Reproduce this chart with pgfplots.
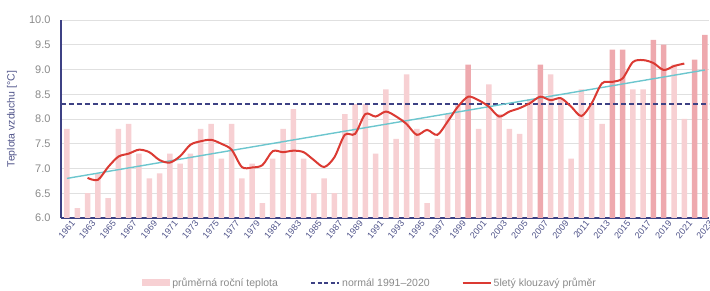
\documentclass[border=0pt]{standalone}
\usepackage{fontspec}
\setmainfont{Liberation Sans}
\usepackage{pgfplots}
\pgfplotsset{compat=1.18}
\definecolor{navy}{HTML}{3D4184}
\definecolor{barlight}{HTML}{F7D0D3}
\definecolor{bardark}{HTML}{EEA9AE}
\definecolor{trend}{HTML}{6CC6CE}
\definecolor{mared}{HTML}{DB3A33}
\definecolor{ticknavy}{HTML}{50548A}
\definecolor{labgray}{HTML}{8A8A8A}

\pgfplotstableread{
year t
1961 7.8
1962 6.2
1963 6.5
1964 6.9
1965 6.4
1966 7.8
1967 7.9
1968 7.3
1969 6.8
1970 6.9
1971 7.3
1972 7.1
1973 7.3
1974 7.8
1975 7.9
1976 7.2
1977 7.9
1978 6.8
1979 7.1
1980 6.3
1981 7.2
1982 7.8
1983 8.2
1984 7.2
1985 6.5
1986 6.8
1987 6.5
1988 8.1
1989 8.3
1990 8.3
1991 7.3
1992 8.6
1993 7.6
1994 8.9
1995 7.8
1996 6.3
1997 7.6
1998 8.1
1999 8.3
2001 7.8
2002 8.7
2003 8.1
2004 7.8
2005 7.7
2006 8.4
2008 8.9
2009 8.4
2010 7.2
2011 8.6
2012 8.3
2013 7.9
2016 8.6
2017 8.6
2020 9.1
2021 8.0
}\barslight

\pgfplotstableread{
year t
2000 9.1
2007 9.1
2014 9.4
2015 9.4
2018 9.6
2019 9.5
2022 9.2
2023 9.7
}\barsdark

\pgfplotstableread{
year m
1963 6.81
1964 6.77
1965 7.03
1966 7.24
1967 7.30
1968 7.38
1969 7.33
1970 7.17
1971 7.12
1972 7.25
1973 7.48
1974 7.55
1975 7.58
1976 7.50
1977 7.38
1978 7.03
1979 7.02
1980 7.07
1981 7.35
1982 7.33
1983 7.36
1984 7.33
1985 7.17
1986 7.03
1987 7.23
1988 7.68
1989 7.70
1990 8.10
1991 8.05
1992 8.15
1993 8.05
1994 7.90
1995 7.68
1996 7.78
1997 7.68
1998 7.95
1999 8.25
2000 8.45
2001 8.38
2002 8.25
2003 8.05
2004 8.15
2005 8.22
2006 8.32
2007 8.45
2008 8.38
2009 8.42
2010 8.25
2011 8.06
2012 8.32
2013 8.72
2014 8.75
2015 8.82
2016 9.15
2017 9.19
2018 9.13
2019 8.99
2020 9.07
2021 9.12
}\mavg

\begin{document}
\begin{tikzpicture}
\useasboundingbox (-61pt,-73pt) rectangle (649pt,218pt);
\begin{axis}[
  scale only axis,
  width=648pt, height=198pt,
  xmin=1960.42, xmax=2023.4,
  ymin=6, ymax=10,
  ytick={6,6.5,...,10},
  yticklabel style={/pgf/number format/fixed,/pgf/number format/fixed zerofill,/pgf/number format/precision=1, font=\fontsize{11}{13}\selectfont, text=labgray, xshift=-7pt},
  /pgf/number format/assume math mode=true,
  xtick={1961,1963,...,2023},
  xticklabel style={rotate=50, anchor=north east, font=\fontsize{9}{11}\selectfont, text=ticknavy, inner sep=1pt, yshift=-3pt, xshift=2pt},
  xticklabel={\pgfmathprintnumber[int detect,1000 sep={}]{\tick}},
  major tick length=0pt,
  axis x line*=bottom, axis y line*=left,
  axis line style={navy, line width=2.2pt},
  ymajorgrids, grid style={draw=black!12, line width=0.6pt},
  ylabel={Teplota vzduchu [°C]},
  ylabel style={at={(axis description cs:-0.0756,0.5)}, anchor=center, font=\fontsize{10.5}{12}\selectfont, text=ticknavy},
  legend columns=3,
  legend style={at={(0.477,-0.328)}, anchor=center, draw=none, fill=none, font=\fontsize{10.5}{12}\selectfont, text=labgray, /tikz/every even column/.append style={column sep=30pt}},
  legend cell align=left,
  clip=true,
]
\addplot[ybar, bar width=5.5pt, fill=barlight, draw=none,
  legend image code/.code={\fill[barlight] (0pt,-3.5pt) rectangle (28pt,3.5pt);}] table[x=year,y=t]{\barslight};
\addlegendentry{průměrná roční teplota}
\addplot[ybar, bar width=5.5pt, fill=bardark, draw=none, forget plot] table[x=year,y=t]{\barsdark};
\addplot[navy, line width=2.2pt, dash pattern=on 5pt off 3pt,
  legend image code/.code={\draw[navy, line width=2.2pt, dash pattern=on 4pt off 2.5pt] (0pt,0pt) -- (28pt,0pt);}] coordinates {(1960.42,8.3) (2023.4,8.3)};
\addlegendentry{normál 1991–2020}
\addplot[trend, line width=1.4pt, forget plot] coordinates {(1961,6.8) (2023,8.99)};
\addplot[mared, line width=2pt, smooth, tension=0.5,
  legend image code/.code={\draw[mared, line width=2pt] (0pt,0pt) -- (28pt,0pt);}] table[x=year,y=m]{\mavg};
\addlegendentry{5letý klouzavý průměr}
\end{axis}
\end{tikzpicture}
\end{document}
